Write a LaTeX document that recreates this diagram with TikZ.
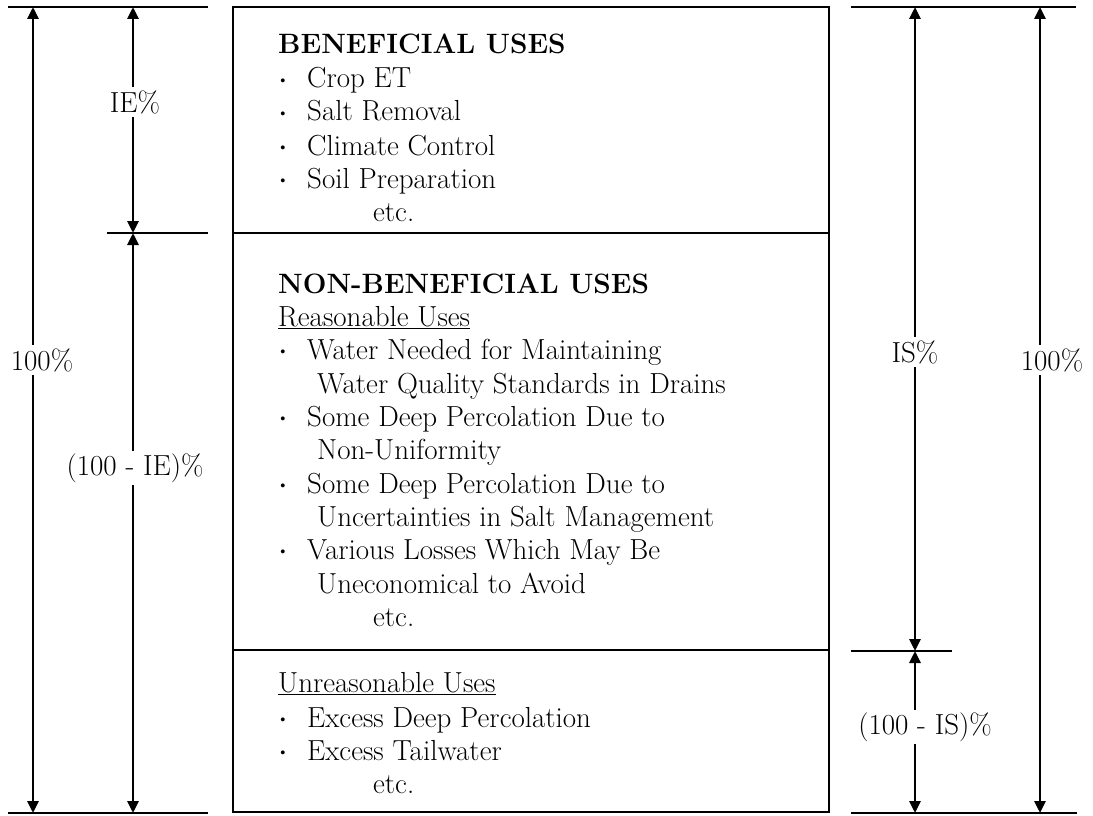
\documentclass[tikz,border=0pt]{standalone}
\usetikzlibrary{arrows.meta}
\newcommand{\mybul}{\raisebox{0.1em}{\scalebox{0.6}{\textbullet}}}
\begin{document}
\begin{tikzpicture}[x=1pt,y=-1pt,
  fnt/.style={font=\fontsize{29}{33}\selectfont},
  txt/.style={fnt,anchor=base west,inner sep=0pt},
  bul/.style={anchor=base,inner sep=0pt,font=\fontsize{29}{33}\selectfont},
  dim/.style={line width=2.9pt,{Triangle[length=12pt,width=11pt]}-{Triangle[length=12pt,width=11pt]}},
  rule/.style={line width=2.8pt},
  sect/.style={draw,line width=2.8pt,minimum width=596pt,inner sep=0pt},
  lbl/.style={fnt,fill=white,inner sep=3pt}]
\useasboundingbox (0,0) rectangle (1093,816);
% box sections
\node[sect,minimum height=226pt] (ben) at (531,120) {};
\node[sect,minimum height=417pt] (non) at (531,441.5) {};
\node[sect,minimum height=162pt] (unr) at (531,731) {};
% reference lines
\coordinate (lt1) at (8,7);   \coordinate (lt2) at (208,7);
\coordinate (lm1) at (107,233); \coordinate (lm2) at (208,233);
\coordinate (lb1) at (8,813); \coordinate (lb2) at (208,813);
\coordinate (rt1) at (851,7); \coordinate (rt2) at (1076,7);
\coordinate (rm1) at (851,651); \coordinate (rm2) at (952,651);
\coordinate (rb1) at (851,813); \coordinate (rb2) at (1077,813);
\draw[rule] (lt1) -- (lt2);
\draw[rule] (lm1) -- (lm2);
\draw[rule] (lb1) -- (lb2);
\draw[rule] (rt1) -- (rt2);
\draw[rule] (rm1) -- (rm2);
\draw[rule] (rb1) -- (rb2);
% dimension arrows
\coordinate (a1t) at (33,7);  \coordinate (a1b) at (33,813);
\coordinate (a2t) at (133,7); \coordinate (a2m) at (133,233); \coordinate (a2b) at (133,813);
\coordinate (a3t) at (915,7); \coordinate (a3m) at (915,651); \coordinate (a3b) at (915,813);
\coordinate (a4t) at (1040,7); \coordinate (a4b) at (1040,813);
\draw[dim] (a1t) -- (a1b);
\draw[dim] (a2t) -- (a2m);
\draw[dim] (a2m) -- (a2b);
\draw[dim] (a3t) -- (a3m);
\draw[dim] (a3m) -- (a3b);
\draw[dim] (a4t) -- (a4b);
% labels
\node[lbl] (l100a) at (42,360) {100\%};
\node[lbl] (lie) at (135,102) {IE\%};
\node[lbl] (lnie) at (135,468) {(100 - IE)\%};
\node[lbl] (lis) at (915,352) {IS\%};
\node[lbl] (l100b) at (1052,360) {100\%};
\node[lbl] (lnis) at (925,727) {(100 - IS)\%};
% beneficial uses
\node[txt,font=\fontsize{28}{33}\selectfont\bfseries] (h1) at (278,54) {BENEFICIAL USES};
\node[bul] (b1) at (283,88) {\mybul};
\node[txt] (t1) at (307,88) {Crop ET};
\node[bul] (b2) at (283,121) {\mybul};
\node[txt] (t2) at (307,121) {Salt Removal};
\node[bul] (b3) at (283,155) {\mybul};
\node[txt] (t3) at (307,155) {Climate Control};
\node[bul] (b4) at (283,188) {\mybul};
\node[txt] (t4) at (307,188) {Soil Preparation};
\node[txt] (t5) at (373,221) {etc.};
% non-beneficial uses
\node[txt,font=\fontsize{28}{33}\selectfont\bfseries] (h2) at (278,293) {NON-BENEFICIAL USES};
\node[txt] (r0) at (278,326) {\underline{Reasonable Uses}};
\node[bul] (rb1) at (283,359) {\mybul};
\node[txt] (r1) at (307,359) {Water Needed for Maintaining};
\node[txt] (r1b) at (317,393) {Water Quality Standards in Drains};
\node[bul] (rb2) at (283,426) {\mybul};
\node[txt] (r2) at (307,426) {Some Deep Percolation Due to};
\node[txt] (r2b) at (317,459) {Non-Uniformity};
\node[bul] (rb3) at (283,493) {\mybul};
\node[txt] (r3) at (307,493) {Some Deep Percolation Due to};
\node[txt] (r3b) at (317,526) {Uncertainties in Salt Management};
\node[bul] (rb4) at (283,559) {\mybul};
\node[txt] (r4) at (307,559) {Various Losses Which May Be};
\node[txt] (r4b) at (317,593) {Uneconomical to Avoid};
\node[txt] (r5) at (373,626) {etc.};
% unreasonable uses
\node[txt] (u0) at (278,692) {\underline{Unreasonable Uses}};
\node[bul] (ub1) at (283,727) {\mybul};
\node[txt] (u1) at (307,727) {Excess Deep Percolation};
\node[bul] (ub2) at (283,760) {\mybul};
\node[txt] (u2) at (307,760) {Excess Tailwater};
\node[txt] (u3) at (373,793) {etc.};
\end{tikzpicture}
\end{document}
